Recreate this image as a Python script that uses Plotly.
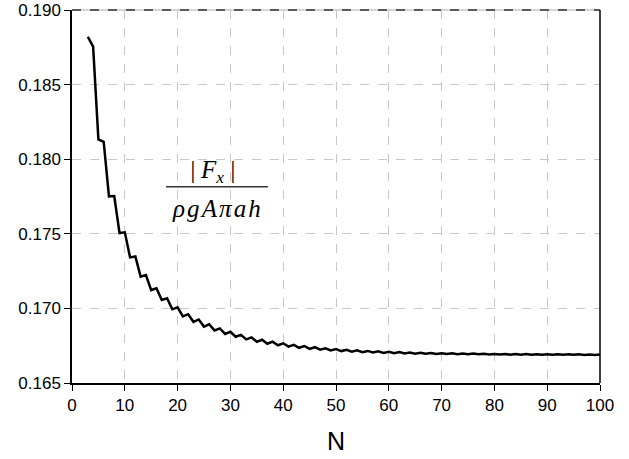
import plotly.graph_objects as go

N = list(range(3, 101))
force_ratio = [
    0.18821, 0.18754, 0.18133, 0.18117, 0.17751, 0.17753, 0.17505, 0.17510,
    0.17342, 0.17348, 0.17213, 0.17224, 0.17123, 0.17135, 0.17056, 0.17068,
    0.16994, 0.17007, 0.16946, 0.16961, 0.16910, 0.16926, 0.16878, 0.16893,
    0.16852, 0.16866, 0.16829, 0.16843, 0.16810, 0.16823, 0.16792, 0.16806,
    0.16776, 0.16790, 0.16763, 0.16777, 0.16753, 0.16766, 0.16744, 0.16756,
    0.16736, 0.16748, 0.16729, 0.16740, 0.16723, 0.16733, 0.16718, 0.16728,
    0.16714, 0.16723, 0.16710, 0.16719, 0.16707, 0.16715, 0.16704, 0.16712,
    0.16702, 0.16709, 0.16700, 0.16707, 0.16698, 0.16705, 0.16697, 0.16703,
    0.16696, 0.16701, 0.16695, 0.16700, 0.16694, 0.16699, 0.16693, 0.16698,
    0.16692, 0.16697, 0.16692, 0.16696, 0.16691, 0.16695, 0.16691, 0.16695,
    0.16690, 0.16694, 0.16690, 0.16694, 0.16690, 0.16693, 0.16689, 0.16693,
    0.16689, 0.16692, 0.16689, 0.16692, 0.16689, 0.16692, 0.16688, 0.16691,
    0.16688, 0.16691,
]
x_ticks = [0, 10, 20, 30, 40, 50, 60, 70, 80, 90, 100]
y_ticks = [0.165, 0.170, 0.175, 0.180, 0.185, 0.190]

fig = go.Figure()
fig.add_trace(go.Scatter(x=N, y=force_ratio, mode="lines",
                         line=dict(color="black", width=2.5), showlegend=False))

axis_font = dict(family="Liberation Sans, Arial, sans-serif", size=17, color="black")
serif = dict(family="Liberation Serif, Times New Roman, serif", size=25, color="black")
fig.update_layout(
    width=629, height=459,
    margin=dict(l=72, r=29, t=10, b=76, autoexpand=False),
    paper_bgcolor="white", plot_bgcolor="white",
    xaxis=dict(range=[0, 100], tickvals=x_ticks, ticks="outside", ticklen=6,
               tickcolor="black", showline=True, linecolor="black", linewidth=1.5,
               showgrid=True, gridcolor="#c8c8c8", griddash="dash", gridwidth=1,
               tickfont=axis_font, zeroline=False,
               title=dict(text="N", font=dict(family="Liberation Sans, Arial, sans-serif",
                                               size=25, color="black"), standoff=18)),
    yaxis=dict(range=[0.165, 0.190], tickvals=y_ticks, tickformat=".3f",
               ticks="outside", ticklen=6, tickcolor="black",
               showline=True, linecolor="black", linewidth=1.5,
               showgrid=True, gridcolor="#c8c8c8", griddash="dash", gridwidth=1,
               tickfont=axis_font, zeroline=False),
    shapes=[
        dict(type="line", xref="paper", yref="paper", x0=0, x1=1, y0=1, y1=1,
             line=dict(color="#c8c8c8", width=1.5)),
        dict(type="line", xref="paper", yref="paper", x0=0, x1=1, y0=1, y1=1,
             line=dict(color="#333333", width=1.5, dash="dash")),
        dict(type="line", xref="paper", yref="paper", x0=1, x1=1, y0=0, y1=1,
             line=dict(color="black", width=1.5)),
        dict(type="line", xref="paper", yref="paper", x0=0.178, x1=0.371, y0=0.526, y1=0.526,
             line=dict(color="#333333", width=1.5)),
    ],
    annotations=[
        dict(text="<i>|\u2009F<sub>x</sub>\u2009|</i>", xref="paper", yref="paper",
             x=0.267, y=0.568, xanchor="center", yanchor="middle", showarrow=False,
             font=serif),
        dict(text="<i>\u03c1\u200ag\u200aA\u200a\u03c0\u200aa\u200ah</i>", xref="paper",
             yref="paper", x=0.273, y=0.467, xanchor="center", yanchor="middle",
             showarrow=False, font=serif),
    ],
)
fig.write_html("out.html")
